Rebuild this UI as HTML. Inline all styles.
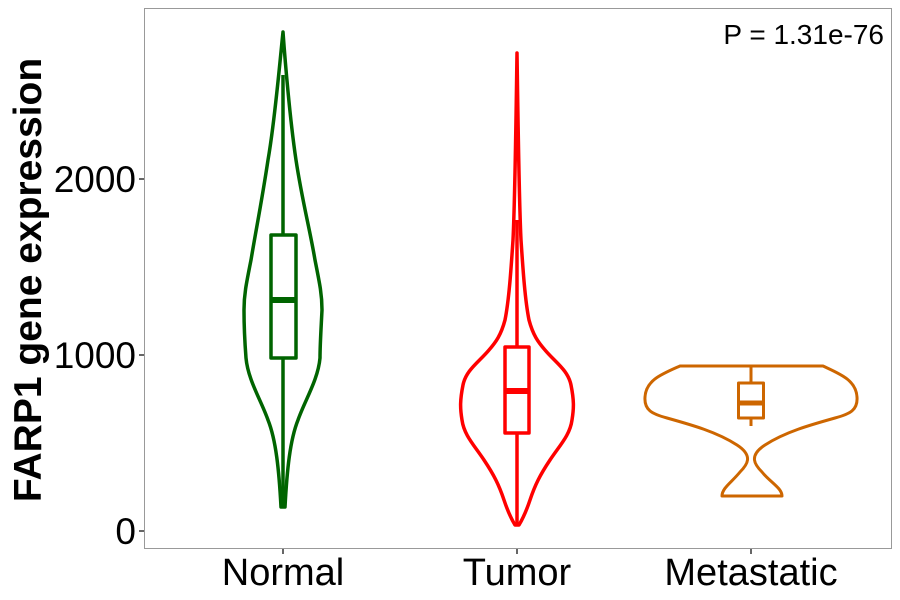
<!DOCTYPE html>
<html><head><meta charset="utf-8"><style>
body{margin:0;background:#fff}
svg{display:block}
text{font-family:"Liberation Sans",sans-serif}
</style></head><body>
<svg width="900" height="600" viewBox="0 0 900 600">
<rect x="144.5" y="8.5" width="747" height="540" fill="#fff" stroke="#999" stroke-width="1"/>
<g stroke="#333" stroke-width="1.5">
<line x1="139" y1="531" x2="144" y2="531"/>
<line x1="139" y1="355" x2="144" y2="355"/>
<line x1="139" y1="179" x2="144" y2="179"/>
<line x1="283" y1="549" x2="283" y2="554"/>
<line x1="517" y1="549" x2="517" y2="554"/>
<line x1="751" y1="549" x2="751" y2="554"/>
</g>
<g font-size="37" fill="#000" text-anchor="end">
<text x="136" y="544">0</text>
<text x="136" y="368">1000</text>
<text x="136" y="192">2000</text>
</g>
<g font-size="38" fill="#000" text-anchor="middle">
<text x="283" y="585">Normal</text>
<text x="517" y="585">Tumor</text>
<text x="751" y="585">Metastatic</text>
</g>
<text transform="translate(41,280) rotate(-90)" font-size="39" font-weight="bold" text-anchor="middle">FARP1 gene expression</text>
<text x="884" y="44" font-size="28" text-anchor="end">P = 1.31e-76</text>

<g fill="none" stroke="#006400" stroke-width="3.5" stroke-linejoin="round">
<path d="M283,32 C285,60 290,120 296,160 C302,200 310,230 315,260 C320,285 322,295 322,310 C321,330 320,345 320,358 C318,380 305,400 298,420 C290,440 287,470 285,507 L281,507 C279,470 276,440 268,420 C261,400 248,380 246,358 C245,345 244,330 244,310 C244,295 246,285 251,260 C256,230 262,200 268,160 C275,120 280,60 283,32 Z"/>
<line x1="283" y1="75" x2="283" y2="235"/>
<line x1="283" y1="358" x2="283" y2="507"/>
<rect x="271" y="235" width="25" height="123"/>
<line x1="271" y1="300" x2="296" y2="300" stroke-width="6"/>
</g>
<g fill="none" stroke="#ff0000" stroke-width="3.5" stroke-linejoin="round">
<path d="M517,53 C518,120 519,200 521,240 C523,270 525,300 529,320 C533,335 538,342 545,350 C555,362 568,370 571,385 C574,400 574,408 572,420 C570,435 560,445 550,460 C540,475 535,485 530,500 C526,512 522,520 519,525 L515,525 C512,520 508,512 504,500 C499,485 494,475 484,460 C474,445 464,435 462,420 C460,408 460,400 463,385 C466,370 479,362 489,350 C496,342 501,335 505,320 C509,300 511,270 513,240 C515,200 516,120 517,53 Z"/>
<line x1="517" y1="220" x2="517" y2="347"/>
<line x1="517" y1="433" x2="517" y2="525"/>
<rect x="505" y="347" width="24" height="86"/>
<line x1="505" y1="391" x2="529" y2="391" stroke-width="6"/>
</g>
<g fill="none" stroke="#cd6600" stroke-width="3" stroke-linejoin="round">
<path d="M680,366 L823,366 C840,374 856,380 857,397 C858,410 850,414 835,418 C810,425 785,432 765,445 C748,456 755,465 762,472 C770,482 782,488 782,496 L722,496 C722,488 732,482 740,472 C747,465 754,456 737,445 C717,432 692,425 667,418 C652,414 644,410 645,397 C646,380 662,374 680,366 Z"/>
<line x1="751" y1="366" x2="751" y2="383"/>
<line x1="751" y1="418" x2="751" y2="426"/>
<rect x="738.5" y="383" width="25" height="35"/>
<line x1="738" y1="403" x2="764" y2="403" stroke-width="5"/>
</g>
</svg>
</body></html>
